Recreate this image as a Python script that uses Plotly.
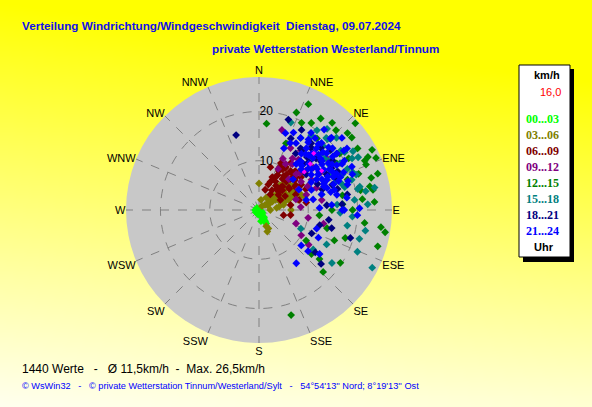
import base64, struct, zlib
import plotly.graph_objects as go

W, H = 592, 407

# ---------------- data (wind direction in degrees, speed in km/h) ----------------
groups = ["00...03", "03...06", "06...09", "09...12", "12...15", "15...18", "18...21", "21...24"]
colors = ["#00ff00", "#808000", "#800000", "#800080", "#008000", "#008080", "#000080", "#0000ff"]

dir_00 = [315, 135, 146, 149, 150, 151, 151, 152, 194, 124, 236, 270, 160, 140, 170, 200, 120, 145]
spd_00 = [0.6, 0.3, 0.8, 1.2, 1.7, 2.1, 2.6, 3.1, 0.9, 0.8, 0.8, 0.8, 1.5, 1.0, 2.3, 0.5, 0.5, 1.8]

dir_03 = [50, 57, 58, 58, 60, 61, 63, 70, 41, 30, 44, 71, 78, 90, 83, 37, 11, 0, 156, 159,
          153, 54, 43, 75, 74, 90, 65, 48, 52, 68, 35, 62, 80, 55, 65, 45, 60, 70, 52, 58,
          64, 48, 56, 62, 68, 72, 50, 40]
spd_03 = [1.6, 2.7, 3.9, 5.1, 6.25, 7.4, 8.4, 9.1, 4.1, 2.9, 5.7, 6.4, 5.1, 2.3, 3.6, 1.0, 2.1, 5.4, 3.6, 4.7,
          4.2, 8.8, 7.1, 8.2, 9.6, 6.5, 4.5, 3.3, 6.8, 7.0, 6.0, 2.0, 4.2, 4.0, 5.8, 3.0, 7.8, 7.5, 2.2, 3.2,
          4.8, 4.6, 5.5, 6.0, 8.0, 5.5, 8.0, 6.6]

dir_06 = [20, 22, 27, 32, 39, 48, 59, 66, 37, 53, 40, 36, 65, 67, 17, 30, 46, 52, 38, 52,
          76, 81, 81, 15, 99, 102, 28, 44, 57, 34, 62, 25, 48, 25, 35, 45, 55, 30, 40, 50,
          60, 33, 43, 22, 28, 36, 44, 50, 56, 42, 32, 26, 48]
spd_06 = [5.5, 7.2, 8.9, 10.3, 10.2, 10.0, 10.0, 10.4, 7.9, 7.6, 5.5, 3.9, 4.8, 8.1, 4.3, 6.7, 9.0, 10.8, 9.2, 5.0,
          8.4, 9.7, 6.5, 9.0, 6.5, 5.1, 8.0, 6.5, 8.8, 11.5, 6.0, 10.5, 11.8, 7.0, 6.0, 6.8, 7.5, 9.5, 8.2, 9.5,
          8.8, 4.8, 10.8, 6.2, 8.0, 8.6, 8.0, 6.2, 9.0, 10.0, 10.0, 9.8, 5.8]

dir_09 = [30, 33, 42, 50, 46, 44, 56, 60, 69, 72, 74, 25, 27, 81, 59, 25, 53, 40, 16, 99,
          125, 121, 102, 62, 86, 35, 110, 36, 48, 64, 52, 38]
spd_09 = [10.8, 12.5, 12.7, 12.4, 10.5, 8.7, 10.3, 12.3, 12.5, 10.1, 7.8, 11.5, 14.1, 12.9, 14.3, 9.2, 17.3, 16.4, 16.9, 10.1,
          12.3, 10.0, 13.4, 9.0, 8.5, 14.8, 8.0, 11.5, 11.2, 11.0, 14.0, 13.0]

dir_12 = [5, 25, 34, 48, 49, 58, 62, 67, 73, 80, 84, 100, 107, 108, 123, 134, 163, 90, 80, 39,
          26, 40, 21, 22, 59, 71, 90, 95, 105, 123, 129, 130, 79, 64, 31, 52, 65, 74, 98, 97,
          45, 55, 86, 112, 44, 60, 70, 78, 86, 66]
spd_12 = [17.6, 23.7, 22.4, 26.3, 23.8, 23.6, 26.0, 23.6, 25.2, 23.5, 21.1, 26.0, 25.2, 18.4, 19.7, 18.1, 22.3, 14.8, 17.2, 18.7,
          19.7, 23.1, 21.2, 14.6, 18.4, 19.0, 19.0, 12.3, 14.3, 11.4, 15.8, 13.9, 21.0, 24.6, 20.6, 23.9, 23.7, 23.7, 25.0, 21.6,
          20.5, 20.0, 17.0, 16.5, 22.5, 21.0, 21.5, 23.0, 23.5, 26.0]

dir_15 = [35, 43, 77, 79, 101, 94, 106, 117, 126, 126, 100, 114, 87, 67, 50, 36, 30, 61, 76, 86,
          113, 117, 20, 55, 73, 47, 65, 63, 45, 46, 84, 58, 70, 92, 52, 60, 68, 75, 80, 56,
          48, 50, 58, 64, 72, 78, 54, 62, 70, 44, 40]
spd_15 = [18.5, 20.0, 21.0, 23.9, 22.0, 19.0, 21.2, 25.8, 18.3, 13.6, 18.2, 9.3, 22.1, 18.4, 19.4, 20.0, 16.9, 21.6, 13.1, 15.9,
          21.7, 15.4, 18.9, 18.0, 17.7, 21.5, 19.8, 16.1, 18.4, 14.9, 19.5, 22.5, 21.0, 16.5, 17.0, 19.0, 20.5, 18.0, 22.0, 21.0,
          17.0, 18.8, 17.0, 17.5, 19.8, 20.5, 20.5, 22.8, 16.5, 20.0, 21.5]

dir_18 = [343, 18, 104, 98, 104, 107, 114, 127, 131, 34, 38, 33, 45, 48, 24, 53, 71, 80, 86, 86,
          54, 28, 60, 42, 66, 75, 44, 58, 36, 50, 64, 72, 40, 52, 62, 46, 56, 68]
spd_18 = [15.9, 19.3, 12.7, 14.3, 15.2, 19.4, 11.7, 14.3, 16.7, 15.1, 17.2, 13.7, 17.8, 15.6, 15.9, 12.0, 15.7, 18.2, 16.9, 13.8,
          19.5, 18.4, 17.0, 14.5, 13.0, 16.5, 13.0, 14.5, 15.0, 19.0, 17.8, 13.5, 16.5, 16.0, 15.5, 14.0, 18.0, 17.0]

dir_21 = [29, 37, 37.5, 43, 43, 43, 50, 58, 54, 52, 46, 39, 62, 66, 65, 61, 74, 79, 76, 69,
          78, 86, 90, 88, 30, 25, 22, 19, 34, 45, 55, 69, 75, 79, 48, 63, 49, 93, 115, 108,
          90, 89, 130, 145, 130, 126, 24, 39, 57, 47, 60, 70, 40, 82, 50, 35, 41, 47, 53, 59,
          64, 71, 44, 50, 56, 62, 68, 36, 42, 48, 54, 60, 66, 72, 38, 45, 40, 46, 52, 58,
          64, 70, 76, 42, 48, 54, 60, 66, 72, 44, 50, 56, 62, 68, 55, 65]
spd_21 = [15.5, 14.3, 15.8, 15.6, 17.1, 18.6, 17.9, 17.5, 15.8, 13.5, 11.9, 12.0, 13.2, 15.1, 17.4, 19.3, 18.7, 16.1, 13.1, 11.4,
          9.8, 14.8, 16.9, 12.3, 16.9, 15.0, 13.5, 16.5, 18.9, 20.5, 21.8, 20.3, 15.8, 11.2, 9.3, 9.1, 22.3, 20.0, 13.3, 12.3,
          17.3, 20.4, 11.2, 13.2, 13.0, 15.2, 17.2, 21.0, 14.5, 16.5, 16.5, 14.0, 13.0, 18.0, 19.5, 17.5, 13.0, 13.8, 14.5, 14.0,
          15.5, 16.0, 16.0, 16.3, 17.0, 16.8, 17.8, 17.0, 15.0, 19.0, 18.5, 20.0, 18.8, 14.5, 18.5, 20.8, 14.8, 15.2, 16.2, 15.5,
          14.2, 17.2, 15.0, 18.0, 17.5, 19.5, 18.2, 16.5, 19.0, 12.5, 13.0, 12.8, 12.0, 14.2, 21.0, 20.8]

dir_hl = [50, 44, 58, 48]
spd_hl = [12.0, 16.0, 15.0, 14.0]

all_dirs = [dir_00, dir_03, dir_06, dir_09, dir_12, dir_15, dir_18, dir_21]
all_spds = [spd_00, spd_03, spd_06, spd_09, spd_12, spd_15, spd_18, spd_21]

compass = ["N", "NNE", "NE", "ENE", "E", "ESE", "SE", "SSE",
           "S", "SSW", "SW", "WSW", "W", "WNW", "NW", "NNW"]
compass_deg = [i * 22.5 for i in range(16)]
radial_ticks = [10, 20]

title1 = "Verteilung Windrichtung/Windgeschwindigkeit  Dienstag, 09.07.2024"
title2 = "private Wetterstation Westerland/Tinnum"
stats_text = "1440 Werte   -   Ø 11,5km/h  -  Max. 26,5km/h"
footer_text = "© WsWin32   -   © private Wetterstation Tinnum/Westerland/Sylt   -   54°54'13'' Nord; 8°19'13'' Ost"
current_value = "16,0"


# ---------------- background gradient (png data uri) ----------------
def gradient_png(w, h):
    raw = bytearray()
    for j in range(h):
        v = j / (h - 1)
        raw.append(0)
        for i in range(w):
            u = i / (w - 1)
            b = 238 * (v ** 0.95) - 55 * u * (1 - 0.5 * v)
            b = int(max(0, min(255, b)))
            raw += bytes((255, 255, b))

    def chunk(t, d):
        return struct.pack(">I", len(d)) + t + d + struct.pack(">I", zlib.crc32(t + d) & 0xFFFFFFFF)

    png = (b"\x89PNG\r\n\x1a\n"
           + chunk(b"IHDR", struct.pack(">IIBBBBB", w, h, 8, 2, 0, 0, 0))
           + chunk(b"IDAT", zlib.compress(bytes(raw), 9))
           + chunk(b"IEND", b""))
    return "data:image/png;base64," + base64.b64encode(png).decode()


def px(x):
    return x / W


def py(y):
    return 1 - y / H


fig = go.Figure()
for name, col, d, s in zip(groups, colors, all_dirs, all_spds):
    fig.add_trace(go.Scatterpolar(
        r=s, theta=d, mode="markers", name=name,
        marker=dict(symbol="diamond", size=6, color=col, line=dict(width=0)),
        hoverinfo="skip"))
fig.add_trace(go.Scatterpolar(
    r=spd_hl, theta=dir_hl, mode="markers",
    marker=dict(symbol="diamond", size=4, color="#ff00ff"), hoverinfo="skip"))

cx, cy, dom = 259, 210, 133
fig.update_layout(
    width=W, height=H, margin=dict(l=0, r=0, t=0, b=0),
    paper_bgcolor="#ffff80", showlegend=False,
    images=[dict(source=gradient_png(120, 82), xref="paper", yref="paper",
                 x=0, y=1, sizex=1, sizey=1, sizing="stretch", layer="below",
                 xanchor="left", yanchor="top")],
    polar=dict(
        domain=dict(x=[px(cx - dom), px(cx + dom)], y=[py(cy + dom), py(cy - dom)]),
        bgcolor="#c8c8c8",
        gridshape="linear",
        angularaxis=dict(rotation=90, direction="clockwise", tickmode="array",
                         tickvals=compass_deg, ticktext=compass, showline=False, ticks="",
                         gridcolor="#808080", griddash="dash", gridwidth=1,
                         tickfont=dict(family="Liberation Sans, Arial", size=11, color="black")),
        radialaxis=dict(range=[0, 27], tickmode="array", tickvals=radial_ticks,
                        ticktext=[str(t) for t in radial_ticks], angle=90, tickangle=90,
                        side="clockwise",
                        showline=False, ticks="", gridcolor="#808080", griddash="dash",
                        tickfont=dict(family="Liberation Sans, Arial", size=12, color="black")),
    ),
)

# legend box with shadow
fig.add_shape(type="rect", xref="paper", yref="paper", x0=px(523), x1=px(574), y0=py(262), y1=py(69),
              fillcolor="black", line=dict(width=0))
fig.add_shape(type="rect", xref="paper", yref="paper", x0=px(519), x1=px(570), y0=py(257), y1=py(65),
              fillcolor="white", line=dict(color="black", width=1))

ann = []
ann.append(dict(text="<b>%s</b>" % title1, x=px(20), y=py(25), xanchor="left", yanchor="middle",
                font=dict(family="Liberation Sans, Arial", size=11.7, color="#1010e8")))
ann.append(dict(text="<b>%s</b>" % title2, x=px(210), y=py(49), xanchor="left", yanchor="middle",
                font=dict(family="Liberation Sans, Arial", size=11.7, color="#1010e8")))
ann.append(dict(text=stats_text, x=px(20), y=py(369), xanchor="left", yanchor="middle",
                font=dict(family="Liberation Sans, Arial", size=12, color="black")))
ann.append(dict(text=footer_text, x=px(20), y=py(386), xanchor="left", yanchor="middle",
                font=dict(family="Liberation Sans, Arial", size=9.2, color="#0000ff")))
ann.append(dict(text="<b>km/h</b>", x=px(547), y=py(75), xanchor="center", yanchor="middle",
                font=dict(family="Liberation Sans, Arial", size=11, color="black")))
ann.append(dict(text=current_value, x=px(550), y=py(92), xanchor="center", yanchor="middle",
                font=dict(family="Liberation Sans, Arial", size=11, color="#ff0000")))
leg_y = [119, 135, 151, 167, 183, 199, 215, 231]
for name, col, yy in zip(groups, colors, leg_y):
    ann.append(dict(text="<b>%s</b>" % name, x=px(542), y=py(yy), xanchor="center", yanchor="middle",
                    font=dict(family="Liberation Serif, Times New Roman", size=12, color=col)))
ann.append(dict(text="<b>Uhr</b>", x=px(544), y=py(247), xanchor="center", yanchor="middle",
                font=dict(family="Liberation Sans, Arial", size=11, color="black")))
for a in ann:
    a.update(xref="paper", yref="paper", showarrow=False)
fig.update_layout(annotations=ann)

fig.write_html("out.html", config={"displayModeBar": False},
               post_script="document.body.style.margin='0';document.body.style.overflow='hidden';")
